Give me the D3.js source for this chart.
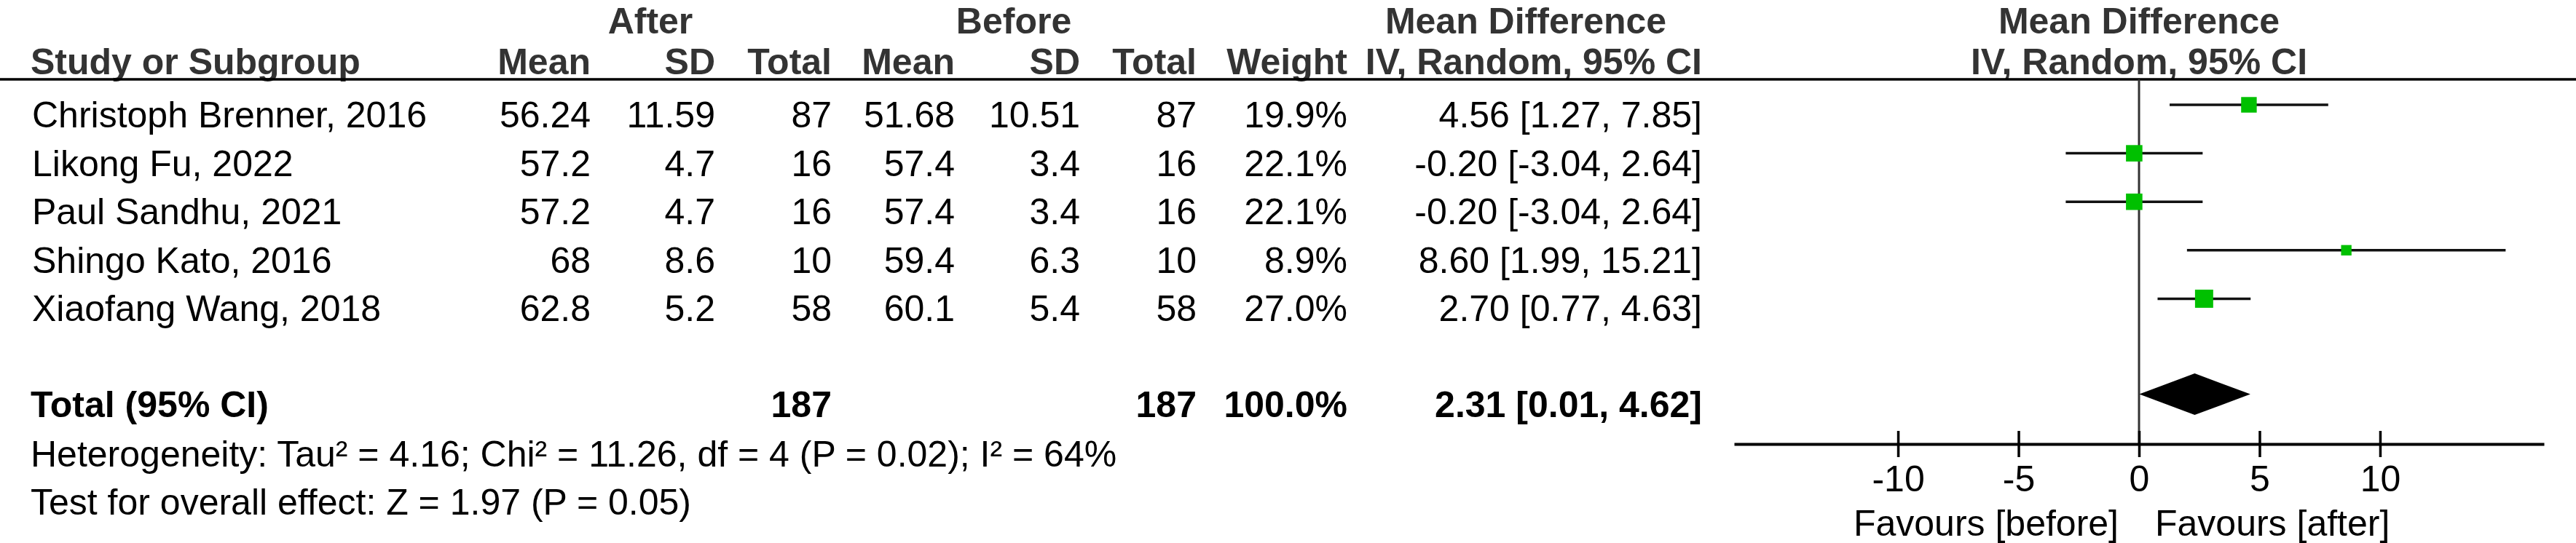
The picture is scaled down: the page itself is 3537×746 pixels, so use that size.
<!DOCTYPE html>
<html>
<head>
<meta charset="utf-8">
<script src="https://cdn.jsdelivr.net/npm/d3@7"></script>
<style>
  html, body { margin: 0; padding: 0; background: #fff; }
  svg { display: block; }
  text { font-family: "Liberation Sans", Arial, sans-serif; }
</style>
</head>
<body>
<script>
// ---------- data ----------
const studies = ["Christoph Brenner, 2016", "Likong Fu, 2022", "Paul Sandhu, 2021", "Shingo Kato, 2016", "Xiaofang Wang, 2018"];
const afterMean = [56.24, 57.2, 57.2, 68, 62.8];
const afterSD = [11.59, 4.7, 4.7, 8.6, 5.2];
const afterTotal = [87, 16, 16, 10, 58];
const beforeMean = [51.68, 57.4, 57.4, 59.4, 60.1];
const beforeSD = [10.51, 3.4, 3.4, 6.3, 5.4];
const beforeTotal = [87, 16, 16, 10, 58];
const weights = [19.9, 22.1, 22.1, 8.9, 27.0];
const meanDiff = [4.56, -0.20, -0.20, 8.60, 2.70];
const ciLow = [1.27, -3.04, -3.04, 1.99, 0.77];
const ciHigh = [7.85, 2.64, 2.64, 15.21, 4.63];
const totalAfter = 187;
const totalBefore = 187;
const totalWeight = 100.0;
const pooled = [2.31, 0.01, 4.62]; // estimate, low, high
const tickValues = [-10, -5, 0, 5, 10];
const heterogeneityText = "Heterogeneity: Tau\u00B2 = 4.16; Chi\u00B2 = 11.26, df = 4 (P = 0.02); I\u00B2 = 64%";
const overallText = "Test for overall effect: Z = 1.97 (P = 0.05)";
const favoursLeft = "Favours [before]";
const favoursRight = "Favours [after]";

// ---------- layout ----------
const W = 3537, H = 746;
const FS = 50;
const col = { study: 44, aMean: 811, aSD: 982, aTot: 1142, bMean: 1311, bSD: 1483, bTot: 1643, weight: 1850, ci: 2337 };
const headerLineY = 109;
const axisY = 610;

const locale = d3.formatLocale({ decimal: ".", thousands: ",", grouping: [3], currency: ["", ""], minus: "-" });
const fmt2 = locale.format(".2f");
const fmt1 = locale.format(".1f");

const svg = d3.select("body").append("svg").attr("width", W).attr("height", H);
svg.append("rect").attr("width", W).attr("height", H).attr("fill", "#fff");

const x = d3.scaleLinear().domain([-16.8, 16.8]).range([2381, 3493]);
const y = d3.scaleLinear().domain([0, 8]).range([144, 676.8]);
const base = 31; // text baseline offset from row centre

// ---------- headers ----------
const hdr = svg.append("g").attr("fill", "#333").attr("font-weight", "bold").attr("font-size", FS);
function htext(t, xx, yy, anchor) {
  hdr.append("text").attr("x", xx).attr("y", yy).attr("text-anchor", anchor).text(t);
}
const topY = 46;
htext("After", 893, topY, "middle");
htext("Before", 1392, topY, "middle");
htext("Mean Difference", 2095, topY, "middle");
htext("Mean Difference", x(0), topY, "middle");
htext("Study or Subgroup", col.study - 2, 102, "start");
htext("Mean", col.aMean, 102, "end");
htext("SD", col.aSD, 102, "end");
htext("Total", col.aTot, 102, "end");
htext("Mean", col.bMean, 102, "end");
htext("SD", col.bSD, 102, "end");
htext("Total", col.bTot, 102, "end");
htext("Weight", col.weight, 102, "end");
htext("IV, Random, 95% CI", col.ci, 102, "end");
htext("IV, Random, 95% CI", x(0), 102, "middle");

svg.append("line").attr("x1", 0).attr("x2", W).attr("y1", headerLineY).attr("y2", headerLineY)
  .attr("stroke", "#000").attr("stroke-width", 3.5);

// ---------- study rows ----------
const rows = svg.append("g").attr("fill", "#000").attr("font-size", FS);
studies.forEach((s, i) => {
  const yy = y(i) + base;
  const cells = [
    [s, col.study, "start"],
    [String(afterMean[i]), col.aMean, "end"],
    [String(afterSD[i]), col.aSD, "end"],
    [String(afterTotal[i]), col.aTot, "end"],
    [String(beforeMean[i]), col.bMean, "end"],
    [String(beforeSD[i]), col.bSD, "end"],
    [String(beforeTotal[i]), col.bTot, "end"],
    [fmt1(weights[i]) + "%", col.weight, "end"],
    [fmt2(meanDiff[i]) + " [" + fmt2(ciLow[i]) + ", " + fmt2(ciHigh[i]) + "]", col.ci, "end"]
  ];
  cells.forEach(c => rows.append("text").attr("x", c[1]).attr("y", yy).attr("text-anchor", c[2]).text(c[0]));
});

// ---------- total row ----------
const totRow = 6;
const tg = svg.append("g").attr("fill", "#000").attr("font-size", FS).attr("font-weight", "bold");
[
  ["Total (95% CI)", col.study - 2, "start"],
  [String(totalAfter), col.aTot, "end"],
  [String(totalBefore), col.bTot, "end"],
  [fmt1(totalWeight) + "%", col.weight, "end"],
  [fmt2(pooled[0]) + " [" + fmt2(pooled[1]) + ", " + fmt2(pooled[2]) + "]", col.ci, "end"]
].forEach(c => tg.append("text").attr("x", c[1]).attr("y", y(totRow) + base - 2).attr("text-anchor", c[2]).text(c[0]));

svg.append("text").attr("x", col.study - 2).attr("y", y(7) + base).attr("font-size", FS).attr("fill", "#000").text(heterogeneityText);
svg.append("text").attr("x", col.study - 2).attr("y", y(8) + base - 1).attr("font-size", FS).attr("fill", "#000").text(overallText);

// ---------- forest plot ----------
svg.append("line").attr("x1", x(0)).attr("x2", x(0)).attr("y1", headerLineY).attr("y2", axisY)
  .attr("stroke", "#333").attr("stroke-width", 3);

const plot = svg.append("g");
studies.forEach((s, i) => {
  plot.append("line").attr("x1", x(ciLow[i])).attr("x2", x(ciHigh[i]))
    .attr("y1", y(i)).attr("y2", y(i)).attr("stroke", "#111").attr("stroke-width", 3.5);
  const sz = 4.8 * Math.sqrt(weights[i]);
  plot.append("rect").attr("x", x(meanDiff[i]) - sz / 2).attr("y", y(i) - sz / 2)
    .attr("width", sz).attr("height", sz).attr("fill", "#00C000");
});

const dy = y(totRow) - 2;
plot.append("polygon")
  .attr("points", [[x(pooled[1]), dy], [x(pooled[0]), dy - 28.5], [x(pooled[2]), dy], [x(pooled[0]), dy + 28.5]].map(p => p.join(",")).join(" "))
  .attr("fill", "#000");

// axis
const axis = d3.axisBottom(x).tickValues(tickValues).tickFormat(d => String(d))
  .tickSizeInner(18).tickSizeOuter(0).tickPadding(0);
const ag = svg.append("g").attr("transform", `translate(0,${axisY})`).call(axis);
ag.select(".domain").attr("stroke", "#000").attr("stroke-width", 4);
ag.selectAll(".tick line").attr("stroke", "#000").attr("stroke-width", 3.5).attr("y1", -18).attr("y2", 18);
ag.selectAll(".tick text").attr("fill", "#000").attr("font-size", FS)
  .attr("font-family", "'Liberation Sans', Arial, sans-serif").attr("y", 65).attr("dy", 0);

svg.append("text").attr("x", x(0) - 28).attr("y", 736).attr("text-anchor", "end").attr("font-size", FS).attr("fill", "#000").text(favoursLeft);
svg.append("text").attr("x", x(0) + 22).attr("y", 736).attr("text-anchor", "start").attr("font-size", FS).attr("fill", "#000").text(favoursRight);
</script>
</body>
</html>
